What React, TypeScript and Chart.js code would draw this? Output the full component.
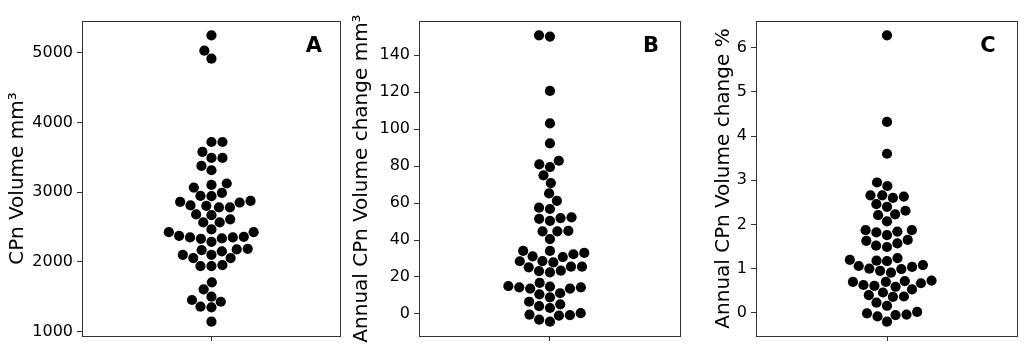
import React, { useEffect, useRef } from 'react';
import { Chart, registerables } from 'chart.js';

Chart.register(...registerables);

// ---- Data ----
const volumeA = [
  5250, 5030, 4915, 3720, 3720, 3577, 3491, 3491, 3377, 3315, 3125, 3105, 3067, 2990, 2943, 2947,
  2861, 2810, 2781, 2781, 2804, 2852, 2875, 2681, 2671, 2609, 2566, 2566, 2466, 2427, 2374, 2351,
  2331, 2288, 2337, 2351, 2360, 2427, 2188, 2102, 2055, 2170, 2102, 2180, 2055, 2151, 1941, 1941,
  1955, 1707, 1607, 1501, 1454, 1429, 1358, 1349, 1143,
];
const annualChangeB = [
  150.8, 150.1, 120.7, 103.1, 92.3, 82.9, 80.9, 79.5, 75.0, 70.8, 65.2, 61.2, 57.5, 56.8, 51.5, 50.4,
  51.9, 52.3, 44.7, 44.7, 45.0, 40.5, 34.1, 33.0, 31.2, 28.5, 30.8, 32.3, 34.1, 27.9, 25.6, 23.4,
  22.5, 23.2, 25.2, 25.6, 28.6, 16.8, 15.1, 14.4, 13.7, 14.4, 14.8, 11.2, 10.6, 13.7, 9.0, 6.6,
  4.2, 3.2, 5.2, 0.4, -0.4, -3.1, -4.2, -0.9, -0.7,
];
const annualPercentC = [
  6.28, 4.32, 3.6, 2.95, 2.87, 2.66, 2.66, 2.6, 2.63, 2.46, 2.4, 2.31, 2.21, 2.23, 2.07, 1.87,
  1.82, 1.76, 1.84, 1.87, 1.63, 1.52, 1.49, 1.57, 1.65, 1.2, 1.08, 1.04, 0.99, 1.24, 1.17, 0.95,
  0.91, 1.0, 1.06, 1.18, 0.67, 0.63, 0.61, 0.7, 0.59, 0.73, 0.7, 0.72, 0.53, 0.4, 0.46, 0.36,
  0.37, 0.23, 0.16, -0.01, -0.08, -0.2, -0.05, -0.04, 0.02,
];

const ticksA = [1000, 2000, 3000, 4000, 5000];
const ticksB = [0, 20, 40, 60, 80, 100, 120, 140];
const ticksC = [0, 1, 2, 3, 4, 5, 6];

const titleA = 'CPn Volume mm³';
const titleB = 'Annual CPn Volume change mm³';
const titleC = 'Annual CPn Volume change %';

const letterA = 'A';
const letterB = 'B';
const letterC = 'C';

// ---- Layout constants ----
const H = 357;
const AREA_TOP = 21;
const AREA_BOTTOM = 336;
const DOT_R = 5.1;
const SWARM_R = 5.24;
const FONT = '"DejaVu Sans", sans-serif';

// seaborn-like beeswarm in pixel space
function swarmOffsets(up: number[], r: number): number[] {
  const idx = up.map((_, i) => i).sort((a, b) => up[a] - up[b]);
  const placed: { x: number; y: number }[] = [];
  const out = new Array(up.length).fill(0);
  for (const i of idx) {
    const y = up[i];
    const neighbors: { x: number; y: number }[] = [];
    for (let k = placed.length - 1; k >= 0; k--) {
      if (y - placed[k].y < 2 * r) neighbors.push(placed[k]);
      else break;
    }
    const cands: number[] = [0];
    let leftFirst = true;
    for (const nb of neighbors) {
      const dy = y - nb.y;
      const dx = Math.sqrt(Math.max(4 * r * r - dy * dy, 0)) * 1.05;
      if (leftFirst) cands.push(nb.x - dx, nb.x + dx);
      else cands.push(nb.x + dx, nb.x - dx);
      leftFirst = !leftFirst;
    }
    const sorted = cands
      .map((c, k) => ({ c, k }))
      .sort((a, b) => Math.abs(a.c) - Math.abs(b.c) || a.k - b.k)
      .map((o) => o.c);
    let chosen = sorted[0];
    if (neighbors.length) {
      for (const c of sorted) {
        if (neighbors.every((nb) => (nb.x - c) ** 2 + (nb.y - y) ** 2 >= 4 * r * r - 1e-9)) {
          chosen = c;
          break;
        }
      }
    }
    placed.push({ x: chosen, y });
    out[i] = chosen;
  }
  return out;
}

type PanelProps = {
  values: number[];
  ticks: number[];
  title: string;
  letter: string;
  left: number;
  width: number;
  areaLeft: number;
  areaRight: number;
  titleMid: number;
};

function Panel(p: PanelProps) {
  const ref = useRef<HTMLCanvasElement>(null);
  useEffect(() => {
    const canvas = ref.current!;
    const vmin = Math.min(...p.values);
    const vmax = Math.max(...p.values);
    const span = vmax - vmin;
    const yAxisWidth = p.areaLeft - p.left;
    const rightPad = p.left + p.width - p.areaRight;

    const framePlugin = {
      id: 'frame',
      afterDatasetsDraw(chart: any) {
        const { ctx, chartArea } = chart;
        ctx.save();
        ctx.strokeStyle = '#333';
        ctx.lineWidth = 1;
        ctx.strokeRect(
          Math.round(chartArea.left) + 0.5,
          Math.round(chartArea.top) + 0.5,
          Math.round(chartArea.right - chartArea.left) - 1,
          Math.round(chartArea.bottom - chartArea.top)
        );
        ctx.fillStyle = '#000';
        ctx.font = `bold 21px ${FONT}`;
        ctx.textAlign = 'center';
        ctx.textBaseline = 'alphabetic';
        ctx.fillText(p.letter, chartArea.left + 232, chartArea.top + 31);
        ctx.restore();
      },
    };

    const chart = new Chart(canvas, {
      type: 'scatter',
      data: {
        datasets: [
          {
            data: p.values.map((v) => ({ x: 0, y: v })),
            backgroundColor: '#000',
            borderWidth: 0,
            pointRadius: DOT_R,
            pointHoverRadius: DOT_R,
          },
        ],
      },
      options: {
        responsive: false,
        animation: false,
        devicePixelRatio: 1,
        events: [],
        layout: { padding: { top: AREA_TOP, left: 0, right: rightPad, bottom: 0 } },
        plugins: { legend: { display: false }, tooltip: { enabled: false } },
        scales: {
          x: {
            type: 'linear',
            min: -0.5,
            max: 0.5,
            afterBuildTicks: (s: any) => {
              s.ticks = [{ value: 0 }];
            },
            afterFit: (s: any) => {
              s.height = H - AREA_BOTTOM;
            },
            ticks: { display: false },
            border: { display: false },
            grid: {
              drawOnChartArea: false,
              drawTicks: true,
              tickLength: 5,
              tickColor: '#333',
              tickWidth: 1,
            },
          },
          y: {
            type: 'linear',
            min: vmin - span * 0.05,
            max: vmax + span * 0.05,
            afterBuildTicks: (s: any) => {
              s.ticks = p.ticks.map((v) => ({ value: v }));
            },
            afterFit: (s: any) => {
              s.width = yAxisWidth;
            },
            ticks: {
              color: '#000',
              padding: 4,
              font: { family: FONT, size: 16 },
              callback: (v: any) => String(v),
            },
            border: { display: false },
            grid: {
              drawOnChartArea: false,
              drawTicks: true,
              tickLength: 5,
              tickColor: '#333',
              tickWidth: 1,
            },
            title: {
              display: true,
              text: p.title,
              color: '#000',
              font: { family: FONT, size: 20, lineHeight: 1.2 },
              padding: { top: p.titleMid - p.left - 12, bottom: 0 },
            },
          },
        },
      },
      plugins: [framePlugin],
    });

    const ys: any = chart.scales.y;
    const xs: any = chart.scales.x;
    const up = p.values.map((v) => -ys.getPixelForValue(v));
    const offs = swarmOffsets(up, SWARM_R);
    const cx = xs.getPixelForValue(0);
    (chart.data.datasets[0] as any).data = p.values.map((v, i) => ({
      x: xs.getValueForPixel(cx + offs[i]),
      y: v,
    }));
    chart.update();

    return () => chart.destroy();
  }, []);
  return (
    <canvas
      ref={ref}
      width={p.width}
      height={H}
      style={{ position: 'absolute', left: p.left, top: 0, width: p.width, height: H }}
    />
  );
}

export default function App() {
  return (
    <div style={{ position: 'fixed', left: 0, top: 0, width: 1024, height: H, background: '#fff' }}>
      <Panel values={volumeA} ticks={ticksA} title={titleA} letter={letterA}
        left={0} width={346} areaLeft={82} areaRight={344} titleMid={18} />
      <Panel values={annualChangeB} ticks={ticksB} title={titleB} letter={letterB}
        left={346} width={340} areaLeft={419} areaRight={681} titleMid={362} />
      <Panel values={annualPercentC} ticks={ticksC} title={titleC} letter={letterC}
        left={686} width={338} areaLeft={756} areaRight={1018} titleMid={724} />
    </div>
  );
}
